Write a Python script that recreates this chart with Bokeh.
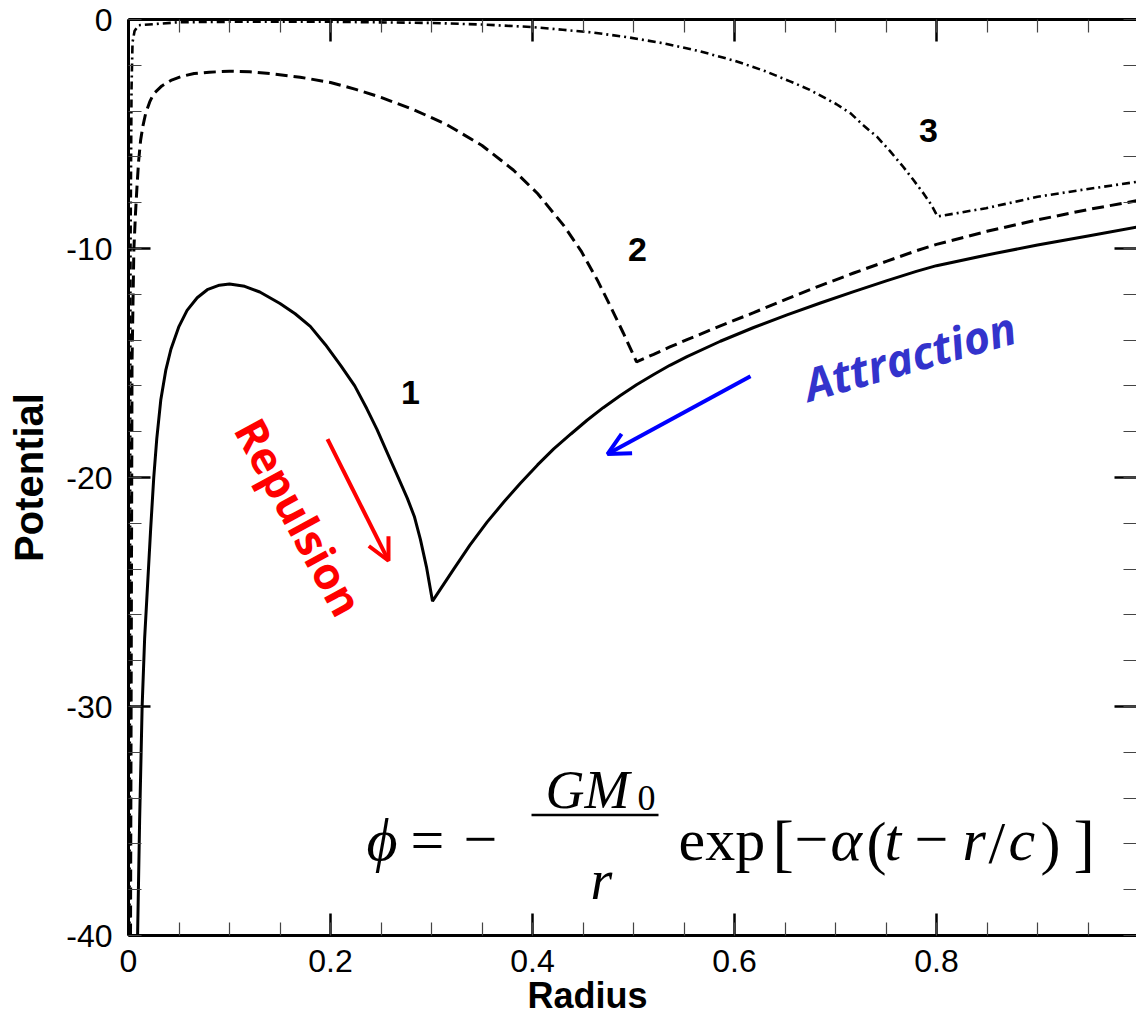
import numpy as np
from bokeh.plotting import figure
from bokeh.models import Label, Arrow, OpenHead, LinearAxis, FixedTicker
from bokeh.embed import file_html
from bokeh.resources import INLINE

# ---------------- data ----------------
r1 = [0.009, 0.011, 0.0135, 0.016, 0.019, 0.022, 0.025, 0.028, 0.032, 0.037, 0.042,
      0.05, 0.058, 0.068, 0.078, 0.09, 0.10, 0.115, 0.13, 0.15, 0.165, 0.18, 0.195,
      0.21, 0.224, 0.236, 0.246, 0.256, 0.266, 0.276, 0.283, 0.289, 0.295, 0.301,
      0.31, 0.322, 0.338, 0.355, 0.372, 0.388, 0.405, 0.421, 0.438, 0.454, 0.47,
      0.487, 0.503, 0.52, 0.536, 0.553, 0.586, 0.619, 0.652, 0.685, 0.718, 0.751,
      0.78, 0.80, 0.85, 0.90, 0.95, 1.0]
phi1 = [-40.0, -35.0, -30.0, -27.0, -24.6, -22.2, -20.0, -18.3, -16.6, -15.3, -14.4,
        -13.4, -12.7, -12.15, -11.8, -11.6, -11.55, -11.65, -11.9, -12.4, -12.85, -13.4,
        -14.2, -15.1, -16.0, -17.0, -17.9, -18.9, -19.9, -20.9, -21.7, -22.7, -23.9,
        -25.4, -24.8, -24.0, -22.95, -21.95, -21.05, -20.25, -19.45, -18.75, -18.1,
        -17.5, -16.95, -16.42, -15.95, -15.5, -15.1, -14.72, -14.05, -13.45, -12.9,
        -12.38, -11.88, -11.4, -11.0, -10.75, -10.28, -9.85, -9.45, -9.05]

r2 = [0.002, 0.0035, 0.0053, 0.007, 0.0086, 0.010, 0.012, 0.0145, 0.017, 0.021, 0.025,
      0.033, 0.042, 0.053, 0.065, 0.08, 0.10, 0.12, 0.14, 0.17, 0.20, 0.225, 0.25,
      0.283, 0.3155, 0.35, 0.381, 0.405, 0.431, 0.448, 0.464, 0.478, 0.49, 0.503,
      0.52, 0.536, 0.553, 0.586, 0.619, 0.652, 0.685, 0.718, 0.751, 0.78, 0.80, 0.85,
      0.90, 0.95, 1.0]
phi2 = [-40.0, -15.0, -10.06, -8.4, -7.15, -6.2, -5.27, -4.6, -4.1, -3.6, -3.24,
        -2.9, -2.66, -2.48, -2.36, -2.3, -2.26, -2.28, -2.36, -2.52, -2.75, -3.05, -3.4,
        -3.95, -4.6, -5.5, -6.57, -7.6, -9.0, -10.1, -11.36, -12.6, -13.7, -14.95,
        -14.62, -14.3, -13.98, -13.38, -12.8, -12.2, -11.62, -11.07, -10.55, -10.1,
        -9.82, -9.25, -8.75, -8.3, -7.9]

r3 = [0.001, 0.002, 0.003, 0.004, 0.006, 0.01, 0.05, 0.1, 0.2, 0.3, 0.35, 0.4, 0.43,
      0.46, 0.495, 0.53, 0.565, 0.60, 0.63, 0.655, 0.674, 0.701, 0.715, 0.727, 0.741,
      0.754, 0.767, 0.777, 0.787, 0.795, 0.801, 0.825, 0.849, 0.875, 0.90, 0.95, 1.0]
phi3 = [-40.0, -10.0, -3.0, -1.0, -0.5, -0.25, -0.12, -0.1, -0.1, -0.15, -0.22, -0.33,
        -0.45, -0.57, -0.78, -1.04, -1.38, -1.8, -2.25, -2.7, -3.06, -3.7, -4.1, -4.6,
        -5.12, -5.75, -6.43, -7.0, -7.59, -8.1, -8.6, -8.42, -8.24, -7.99, -7.74, -7.4,
        -7.08]

x_ticks = [0, 0.2, 0.4, 0.6, 0.8, 1.0]
x_tick_labels = ["0", "0.2", "0.4", "0.6", "0.8", "1"]
y_ticks = [-40, -30, -20, -10, 0]
y_tick_labels = ["-40", "-30", "-20", "-10", "0"]
curve_names = ["1", "2", "3"]
x_title = "Radius"
y_title = "Potential"

# ---------------- helpers for annotation placement (page pixels -> data) ----------------
def dx(px):
    return (px - 128) / 1010.0

def dy(py):
    return -(py - 19) / 22.975

p = figure(width=1136, height=1018, x_range=(0, 0.998), y_range=(-40, 0),
           output_backend="svg", toolbar_location=None,
           min_border_left=128, min_border_top=19, min_border_right=0,
           min_border_bottom=80)
p.grid.visible = False
p.outline_line_color = None
p.background_fill_color = "white"

xmin = list(np.round(np.arange(0, 1.0001, 0.05), 3))
ymin = list(range(-40, 1, 2))
xt = FixedTicker(ticks=x_ticks, minor_ticks=xmin)
yt = FixedTicker(ticks=y_ticks, minor_ticks=ymin)

def style_axis(ax):
    ax.axis_line_width = 3
    ax.axis_line_color = "black"
    ax.major_tick_in = 22
    ax.major_tick_out = 0
    ax.minor_tick_in = 13
    ax.minor_tick_out = 0
    ax.major_tick_line_width = 2.5
    ax.major_tick_line_color = "black"
    ax.minor_tick_line_width = 1.2
    ax.minor_tick_line_color = "#444444"
    ax.major_label_text_font = "Liberation Sans"
    ax.major_label_text_font_size = "32px"
    ax.major_label_text_color = "black"
    ax.axis_label_text_font = "Liberation Sans"
    ax.axis_label_text_font_style = "bold"
    ax.axis_label_text_color = "black"

xa = p.xaxis[0]
xa.ticker = xt
xa.major_label_overrides = dict(zip(x_ticks, x_tick_labels))
# trailing no-break spaces shift the centred title left, as in the reference
xa.axis_label = x_title + "\u00a0" * 9
style_axis(xa)
xa.axis_label_text_font_size = "36px"
xa.major_label_standoff = 14
xa.axis_label_standoff = 0

ya = p.yaxis[0]
ya.ticker = yt
ya.major_label_overrides = dict(zip(y_ticks, y_tick_labels))
ya.axis_label = y_title
style_axis(ya)
ya.axis_label_text_font_size = "40px"
ya.major_label_standoff = 16
ya.axis_label_standoff = 12

top = LinearAxis(ticker=xt)
style_axis(top)
top.major_label_overrides = {t: "" for t in x_ticks}
top.major_label_standoff = 0
p.add_layout(top, "above")
right = LinearAxis(ticker=yt)
style_axis(right)
right.major_label_overrides = {t: "" for t in y_ticks}
right.major_label_standoff = 0
right.axis_line_color = None
p.add_layout(right, "right")

# ---------------- curves ----------------
p.line(r1, phi1, line_color="black", line_width=3)
p.line(r2, phi2, line_color="black", line_width=3, line_dash="12 6")
p.line(r3, phi3, line_color="black", line_width=2.6, line_dash="8 4 2 4")

# ---------------- curve numbers ----------------
for name, (px, py) in zip(curve_names, [(410, 393), (637, 250), (928, 130)]):
    p.add_layout(Label(x=dx(px), y=dy(py), text=name, text_align="center",
                       text_baseline="middle", text_font="Liberation Sans",
                       text_font_style="bold", text_font_size="34px",
                       text_color="black"))

# ---------------- Repulsion / Attraction ----------------
p.add_layout(Label(x=dx(299), y=dy(518), text="Repulsion", angle=-1.073,
                   text_align="center", text_baseline="middle",
                   text_font="Open Sans", text_font_style="bold",
                   text_font_size="44px", text_color="#ff0000"))
p.add_layout(Arrow(end=OpenHead(size=22, line_color="#ff0000", line_width=4),
                   x_start=dx(327), y_start=dy(440), x_end=dx(388), y_end=dy(562),
                   line_color="#ff0000", line_width=4))

p.add_layout(Label(x=dx(909), y=dy(356), text="Attraction", angle=0.277,
                   text_align="center", text_baseline="middle",
                   text_font="Open Sans", text_font_style="bold italic",
                   text_font_size="45px", text_color="#3333cc"))
p.add_layout(Arrow(end=OpenHead(size=22, line_color="#0000ff", line_width=4),
                   x_start=dx(750), y_start=dy(377), x_end=dx(607), y_end=dy(455),
                   line_color="#0000ff", line_width=4))

# ---------------- formula ----------------
serif = "Liberation Serif"
pieces = [
    ("\u03d5", 366, 842, "italic", 60),
    ("=", 410, 842, "normal", 60),
    ("\u2212", 463, 842, "normal", 60),
    ("GM", 545, 792, "italic", 54),
    ("0", 637, 800, "normal", 36),
    ("r", 590, 882, "italic", 56),
    ("exp", 678, 842, "normal", 60),
    ("[", 772, 845, "normal", 64),
    ("\u2212", 794, 842, "normal", 60),
    ("\u03b1", 830, 842, "italic", 60),
    ("(", 866, 845, "normal", 60),
    ("t", 884, 842, "italic", 60),
    ("\u2212", 914, 842, "normal", 60),
    ("r", 962, 842, "italic", 60),
    ("/", 988, 845, "normal", 60),
    ("c", 1008, 842, "italic", 60),
    (")", 1040, 845, "normal", 60),
    ("]", 1073, 845, "normal", 64),
]
for txt, px, py, style, size in pieces:
    p.add_layout(Label(x=dx(px), y=dy(py), text=txt, text_align="left",
                       text_baseline="alphabetic", text_font=serif,
                       text_font_style=style, text_font_size=f"{size}px",
                       text_color="black"))
p.segment(x0=[dx(531)], y0=[dy(817)], x1=[dx(658)], y1=[dy(817)],
          line_color="black", line_width=2.5)

open("out.html", "w").write(file_html(p, INLINE))
